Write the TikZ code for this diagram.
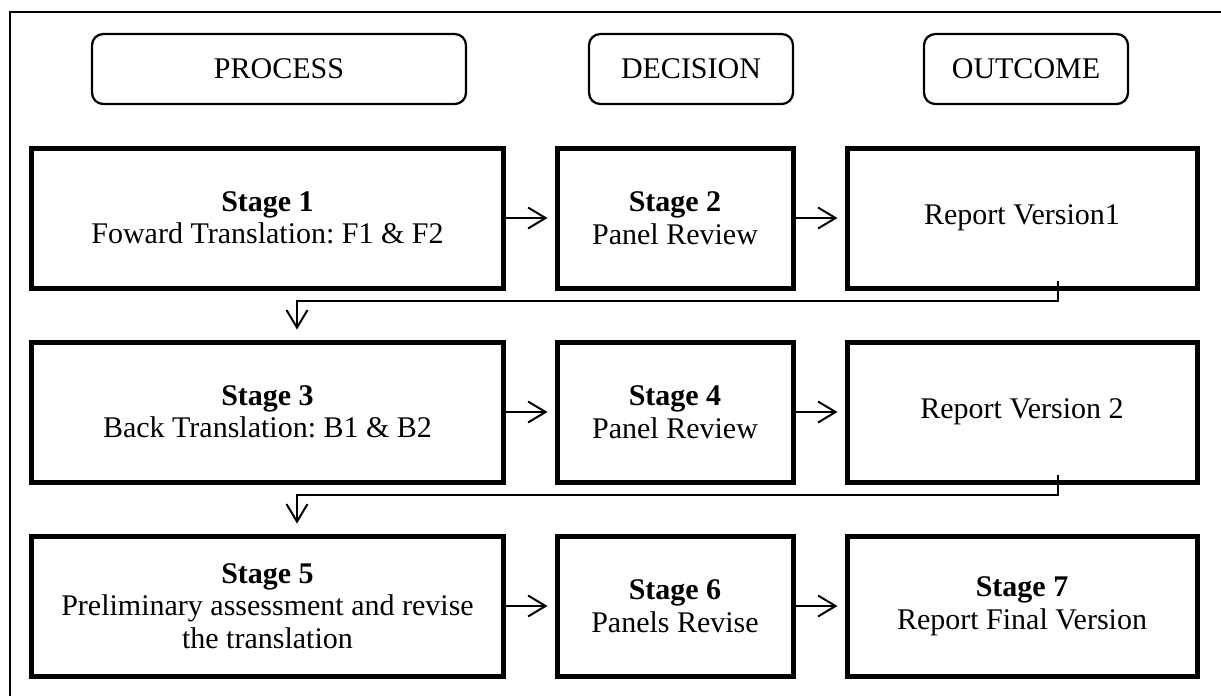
\documentclass[tikz,border=0pt]{standalone}
\usepackage{fontspec}
\setmainfont{Liberation Serif}
\usetikzlibrary{arrows.meta, positioning, calc}
\frenchspacing
\tikzset{
  basebox/.style={rectangle, draw=black, align=center,
                  font=\fontsize{12}{13}\selectfont, inner sep=2pt},
  headbox/.style={basebox, rounded corners=4.5pt, line width=0.9pt,
                  minimum height=28pt},
  stagebox/.style={basebox, line width=2pt, minimum height=56pt},
  widebox/.style={stagebox, minimum width=188.4pt},
  midbox/.style={stagebox, minimum width=94.4pt},
  outbox/.style={stagebox, minimum width=140pt},
  flowarrow/.style={-{Straight Barb[length=7pt,width=8.4pt]},
                    line width=0.8pt, shorten >=2.8pt}
}
\begin{document}
\begin{tikzpicture}[x=0.4pt, y=-0.4pt]
  \useasboundingbox (0,0) rectangle (1221,695);
  % outer frame (cut at right and bottom)
  \draw[line width=0.8pt] (10,720) -- (10,12) -- (1240,12);

  % column heads
  \node[headbox, minimum width=149.6pt] (hproc) at (279,69)  {PROCESS};
  \node[headbox, minimum width=81.6pt]  (hdec)  at (691,69)  {DECISION};
  \node[headbox, minimum width=81.6pt]  (hout)  at (1026,69) {OUTCOME};

  % row 1
  \node[widebox] (st1)  at (267.5,218) {\textbf{Stage 1}\\Foward Translation: F1 \& F2};
  \node[midbox]  (st2)  at (675,218)   {\textbf{Stage 2}\\Panel Review};
  \node[outbox]  (rep1) at (1022,218)  {Report Version1};

  % row 2
  \node[widebox] (st3)  at (267.5,412) {\textbf{Stage 3}\\Back Translation: B1 \& B2};
  \node[midbox]  (st4)  at (675,412)   {\textbf{Stage 4}\\Panel Review};
  \node[outbox]  (rep2) at (1022,412)  {Report Version 2};

  % row 3
  \node[widebox] (st5)  at (267.5,606) {\textbf{Stage 5}\\Preliminary assessment and revise\\the translation};
  \node[midbox]  (st6)  at (675,606)   {\textbf{Stage 6}\\Panels Revise};
  \node[outbox]  (st7)  at (1022,606)  {\textbf{Stage 7}\\Report Final Version};

  % arrows along the rows
  \draw[flowarrow] (st1) -- (st2);
  \draw[flowarrow] (st2) -- (rep1);
  \draw[flowarrow] (st3) -- (st4);
  \draw[flowarrow] (st4) -- (rep2);
  \draw[flowarrow] (st5) -- (st6);
  \draw[flowarrow] (st6) -- (st7);

  % back to the next row
  \draw[flowarrow] ([xshift=14.4pt,yshift=4pt]rep1.south) -- ++(0pt,-8pt)
    -| ([xshift=11.8pt,yshift=1.2pt]st3.north);
  \draw[flowarrow] ([xshift=14.4pt,yshift=4pt]rep2.south) -- ++(0pt,-8pt)
    -| ([xshift=11.8pt,yshift=1.2pt]st5.north);
\end{tikzpicture}
\end{document}
